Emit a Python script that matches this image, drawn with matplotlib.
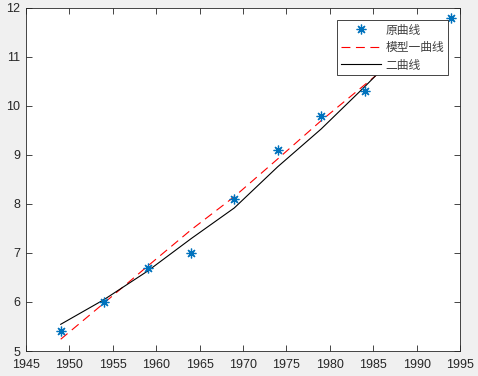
import matplotlib
matplotlib.use("Agg")
import matplotlib.pyplot as plt

plt.rcParams['font.family'] = ['Liberation Sans', 'Noto Sans CJK SC', 'DejaVu Sans']

years = [1949, 1954, 1959, 1964, 1969, 1974, 1979, 1984, 1989, 1994]
pop = [5.4, 6.0, 6.7, 7.0, 8.1, 9.1, 9.8, 10.3, 11.3, 11.8]

# model one (red dashed), read at the sample years
model1_years = [1949, 1954, 1959, 1964, 1969, 1974, 1979, 1984, 1989]
model1 = [5.24, 5.98, 6.73, 7.47, 8.15, 8.92, 9.70, 10.43, 11.16]

# model two (black solid)
model2_years = [1949, 1954, 1959, 1964, 1969, 1974, 1979, 1984, 1989]
model2 = [5.545, 6.05, 6.63, 7.29, 7.92, 8.76, 9.53, 10.39, 11.28]

labels = ['原曲线', '模型一曲线', '二曲线']

fig = plt.figure(figsize=(4.78, 3.76), dpi=100, facecolor='#f0f0f0')
ax = fig.add_axes([26 / 478, 25 / 376, 434 / 478, 343 / 376])

ax.plot(years, pop, linestyle='none', marker=(8, 2, 0), markersize=7,
        markeredgewidth=0.9, color='#0072BD', label=labels[0], zorder=3)
ax.plot(model1_years, model1, linestyle=(0, (8, 5)), color='red', lw=0.8, label=labels[1])
ax.plot(model2_years, model2, '-', color='black', lw=0.8, label=labels[2])

ax.set_xlim(1945, 1995)
ax.set_ylim(5, 12)
ax.set_xticks(range(1945, 1996, 5))
ax.set_yticks(range(5, 13))
ax.tick_params(direction='in', length=4, width=0.6, top=True, right=True,
               labelsize=9, colors='#262626')
ax.tick_params(axis='x', pad=6)
ax.tick_params(axis='y', pad=4)
for s in ax.spines.values():
    s.set_linewidth(0.6)
    s.set_color('#262626')

leg = ax.legend(loc='upper right', bbox_to_anchor=(1 - 12 / 434, 1 - 12 / 343),
                fancybox=False, edgecolor='#262626', framealpha=1,
                borderaxespad=0, prop={'family': ['Noto Sans CJK SC', 'DejaVu Sans'], 'size': 8.5},
                handlelength=3.4, handletextpad=0.4, labelspacing=0.38,
                borderpad=0.3)
leg.get_frame().set_linewidth(0.6)
for t in leg.get_texts():
    t.set_color('#404040')

fig.savefig('out.png', dpi=100, facecolor=fig.get_facecolor())
